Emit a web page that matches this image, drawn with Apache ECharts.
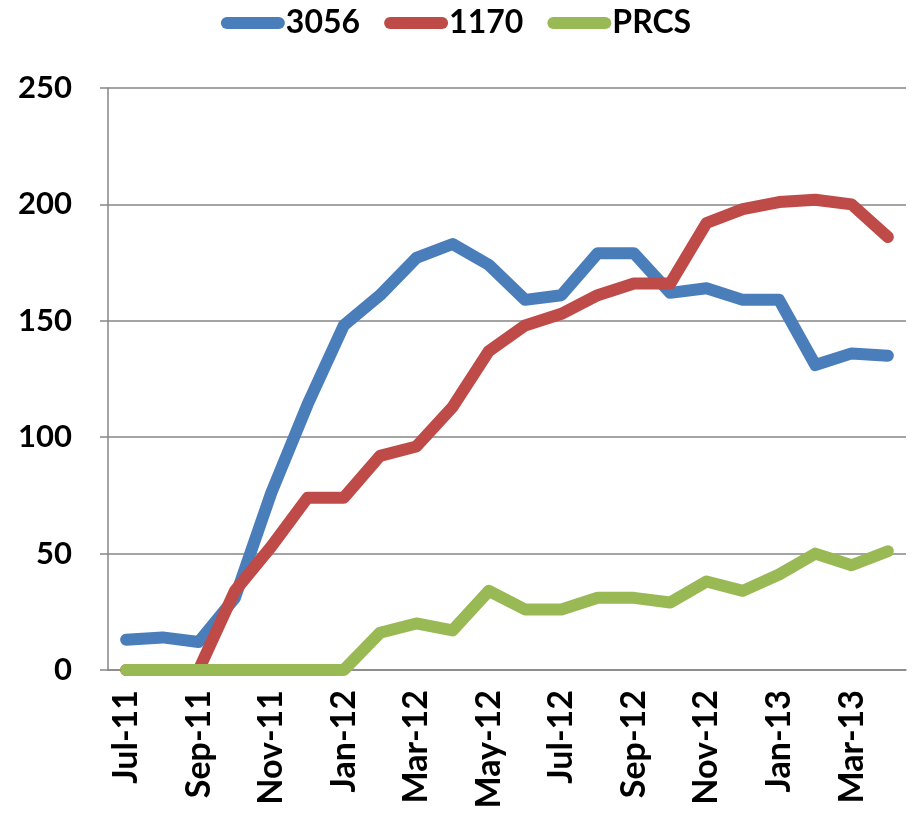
<!DOCTYPE html>
<html>
<head>
<meta charset="utf-8">
<script src="https://cdn.jsdelivr.net/npm/echarts@6/dist/echarts.min.js"></script>
<style>
	html, body { margin: 0; padding: 0; background: #fff; }
	#chart { width: 912px; height: 814px; }
</style>
</head>
<body>
<div id="chart"></div>
<script>
var months = ['Jul-11', 'Aug-11', 'Sep-11', 'Oct-11', 'Nov-11', 'Dec-11',
		'Jan-12', 'Feb-12', 'Mar-12', 'Apr-12', 'May-12', 'Jun-12',
		'Jul-12', 'Aug-12', 'Sep-12', 'Oct-12', 'Nov-12', 'Dec-12',
		'Jan-13', 'Feb-13', 'Mar-13', 'Apr-13'];
var s3056 = [13, 14, 12, 31, 76, 114, 148, 161, 177, 183, 174, 159, 161, 179,
		179, 162, 164, 159, 159, 131, 136, 135];
var s1170 = [0, 0, 0, 34, 53, 74, 74, 92, 96, 113, 137, 148, 153, 161, 166,
		166, 192, 198, 201, 202, 200, 186];
var sPRCS = [0, 0, 0, 0, 0, 0, 0, 16, 20, 17, 34, 26, 26, 31, 31, 29, 38, 34,
		41, 50, 45, 51];
var yTicks = [0, 50, 100, 150, 200, 250];

var font = 'Lato';
var axisGray = '#868686';

function line(name, data, color) {
	return {
		name : name,
		type : 'line',
		data : data,
		showSymbol : false,
		symbol : 'none',
		animation : false,
		itemStyle : {
			color : color
		},
		lineStyle : {
			color : color,
			width : 12,
			cap : 'round',
			join : 'round'
		}
	};
}

var option = {
	animation : false,
	legend : {
		top : 2,
		left : 'center',
		itemWidth : 64,
		itemHeight : 12,
		itemGap : 24,
		icon : 'path://M6,0 L58,0 A6,6 0 0 1 58,12 L6,12 A6,6 0 0 1 6,0 Z',
		textStyle : {
			fontFamily : font,
			fontWeight : 'bold',
			fontSize : 32,
			color : '#000',
			padding : [0, 0, 0, -4]
		},
		data : ['3056', '1170', 'PRCS']
	},
	grid : {
		left : 108,
		right : 6,
		top : 88,
		bottom : 144
	},
	xAxis : {
		type : 'category',
		data : months,
		boundaryGap : true,
		axisLine : {
			lineStyle : {
				color : axisGray,
				width : 1.5
			}
		},
		axisTick : {
			interval : 1,
			length : 9,
			lineStyle : {
				color : axisGray,
				width : 1.5
			}
		},
		axisLabel : {
			interval : 1,
			rotate : 90,
			margin : 20,
			fontFamily : font,
			fontWeight : 'bold',
			fontSize : 34,
			color : '#000'
		}
	},
	yAxis : {
		type : 'value',
		min : yTicks[0],
		max : yTicks[yTicks.length - 1],
		interval : 50,
		axisLine : {
			show : true,
			lineStyle : {
				color : axisGray,
				width : 1.5
			}
		},
		axisTick : {
			show : true,
			length : 8,
			lineStyle : {
				color : axisGray,
				width : 1.5
			}
		},
		splitLine : {
			lineStyle : {
				color : axisGray,
				width : 1.5
			}
		},
		axisLabel : {
			margin : 36,
			fontFamily : font,
			fontWeight : 'bold',
			fontSize : 31,
			color : '#000'
		}
	},
	series : [line('3056', s3056, '#4A7EBB'), line('1170', s1170, '#BE4B48'),
			line('PRCS', sPRCS, '#98B954')]
};

var chart = echarts.init(document.getElementById('chart'));
chart.setOption(option);
</script>
</body>
</html>
